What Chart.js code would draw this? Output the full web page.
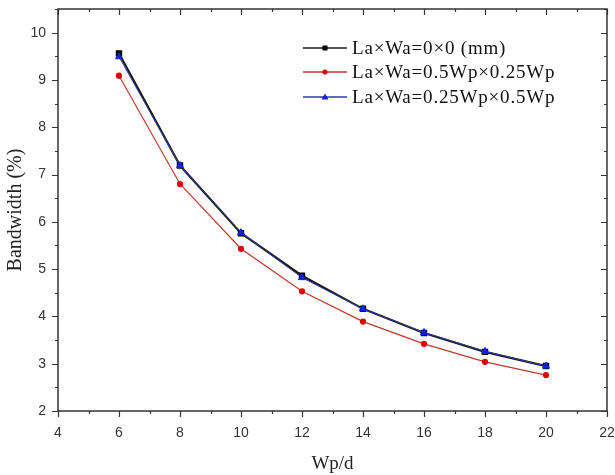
<!DOCTYPE html>
<html>
<head>
<meta charset="utf-8">
<script src="https://cdn.jsdelivr.net/npm/chart.js@4.4.1/dist/chart.umd.min.js"></script>
<style>
  html, body { margin: 0; padding: 0; background: #fff; }
  #wrap { position: relative; width: 615px; height: 475px; }
</style>
</head>
<body>
<div id="wrap"><canvas id="c" width="615" height="475"></canvas></div>
<script>
// Wp/d values and bandwidth (%) for the three patch configurations
const wpd = [6, 8, 10, 12, 14, 16, 18, 20];
const bwNone = [9.56, 7.19, 5.76, 4.86, 4.16, 3.65, 3.25, 2.95];
const bwLongSlot = [9.09, 6.80, 5.43, 4.53, 3.89, 3.42, 3.04, 2.76];
const bwWideSlot = [9.49, 7.19, 5.77, 4.82, 4.16, 3.66, 3.26, 2.95];
const seriesLabels = [
  'La×Wa=0×0 (mm)',
  'La×Wa=0.5Wp×0.25Wp',
  'La×Wa=0.25Wp×0.5Wp',
];

const axisColor = '#333';
const serif = "'Liberation Serif', 'DejaVu Serif', serif";
const sans = "'Liberation Sans', Arial, sans-serif";

function pts(ys) {
  return wpd.map((x, i) => ({ x, y: ys[i] }));
}

// frame + major/minor ticks like the Origin plot (outward bottom/left, inward top/right)
const frameTicks = {
  id: 'frameTicks',
  afterDraw(chart) {
    const { ctx, chartArea: a, scales } = chart;
    const xs = scales.x, ys = scales.y;
    ctx.save();
    ctx.strokeStyle = axisColor;
    ctx.lineWidth = 1.5;
    ctx.strokeRect(a.left, a.top, a.right - a.left, a.bottom - a.top);
    ctx.lineWidth = 1.2;
    ctx.beginPath();
    for (let v = xs.min; v <= xs.max + 1e-6; v += 1) {
      const px = Math.round(xs.getPixelForValue(v)) + 0.5;
      const len = v % 2 === 0 ? 6 : 3;
      ctx.moveTo(px, a.bottom); ctx.lineTo(px, a.bottom + len);
      ctx.moveTo(px, a.top); ctx.lineTo(px, a.top + len);
    }
    for (let v = ys.min; v <= ys.max + 1e-6; v += 0.5) {
      const py = Math.round(ys.getPixelForValue(v)) + 0.5;
      const len = Number.isInteger(v) ? 6 : 3;
      ctx.moveTo(a.left, py); ctx.lineTo(a.left - len, py);
      ctx.moveTo(a.right, py); ctx.lineTo(a.right - len, py);
    }
    ctx.stroke();
    ctx.restore();
  },
};

// legend drawn inside the plot, no box
const innerLegend = {
  id: 'innerLegend',
  afterDraw(chart) {
    const { ctx } = chart;
    const x0 = 303, x1 = 347, tx = 352;
    const rows = [48, 72, 97];
    ctx.save();
    ctx.font = '19px ' + serif;
    ctx.letterSpacing = '0.8px';
    ctx.textBaseline = 'middle';
    chart.data.datasets.forEach((ds, i) => {
      const y = rows[i];
      ctx.strokeStyle = ds.borderColor;
      ctx.lineWidth = 1.5;
      ctx.beginPath();
      ctx.moveTo(x0, y); ctx.lineTo(x1, y);
      ctx.stroke();
      ctx.fillStyle = ds.pointBackgroundColor;
      const cx = (x0 + x1) / 2;
      ctx.beginPath();
      if (ds.pointStyle === 'rect') ctx.rect(cx - 2.5, y - 2.5, 5, 5);
      else if (ds.pointStyle === 'triangle') { ctx.moveTo(cx, y - 3.5); ctx.lineTo(cx + 3.5, y + 2.5); ctx.lineTo(cx - 3.5, y + 2.5); ctx.closePath(); }
      else ctx.arc(cx, y, 2.5, 0, Math.PI * 2);
      ctx.fill();
      ctx.fillStyle = '#111';
      ctx.fillText(ds.label, tx, y + 1);
    });
    ctx.restore();
  },
};

new Chart(document.getElementById('c'), {
  type: 'line',
  data: {
    datasets: [
      {
        label: seriesLabels[0],
        data: pts(bwNone),
        borderColor: '#1a1a1a',
        pointBackgroundColor: '#000',
        pointBorderColor: '#000',
        pointStyle: 'rect',
        pointRadius: 3,
        borderWidth: 2.2,
        order: 2,
      },
      {
        label: seriesLabels[1],
        data: pts(bwLongSlot),
        borderColor: '#c0392b',
        pointBackgroundColor: '#e00000',
        pointBorderColor: '#e00000',
        pointStyle: 'circle',
        pointRadius: 2.5,
        borderWidth: 1.2,
        order: 1,
      },
      {
        label: seriesLabels[2],
        data: pts(bwWideSlot),
        borderColor: '#2a3aa8',
        pointBackgroundColor: '#1020e0',
        pointBorderColor: '#1020e0',
        pointStyle: 'triangle',
        pointRadius: 4,
        borderWidth: 1,
        order: 0,
      },
    ],
  },
  options: {
    responsive: false,
    animation: false,
    layout: { padding: { left: 0, right: 8, top: 9, bottom: 0 } },
    plugins: { legend: { display: false }, tooltip: { enabled: false } },
    scales: {
      x: {
        type: 'linear',
        min: 4,
        max: 22,
        grid: { display: false },
        border: { display: false },
        ticks: { stepSize: 2, color: axisColor, font: { family: sans, size: 14 }, padding: 6, maxRotation: 0 },
        title: { display: true, text: 'Wp/d', color: '#222', font: { family: serif, size: 19 }, padding: { top: 5, bottom: 0 } },
        afterFit: (s) => { s.height = 64; s.paddingLeft = 0; s.paddingRight = 0; },
      },
      y: {
        min: 2,
        max: 10.5,
        grid: { display: false, drawTicks: false },
        border: { display: false },
        ticks: { stepSize: 1, includeBounds: false, color: axisColor, font: { family: sans, size: 14 }, padding: 12 },
        title: { display: true, text: 'Bandwidth (%)', color: '#222', font: { family: serif, size: 20 }, padding: { top: 4, bottom: 2 } },
        afterFit: (s) => { s.width = 58; s.paddingTop = 0; s.paddingBottom = 0; },
      },
    },
  },
  plugins: [frameTicks, innerLegend],
});
</script>
</body>
</html>
